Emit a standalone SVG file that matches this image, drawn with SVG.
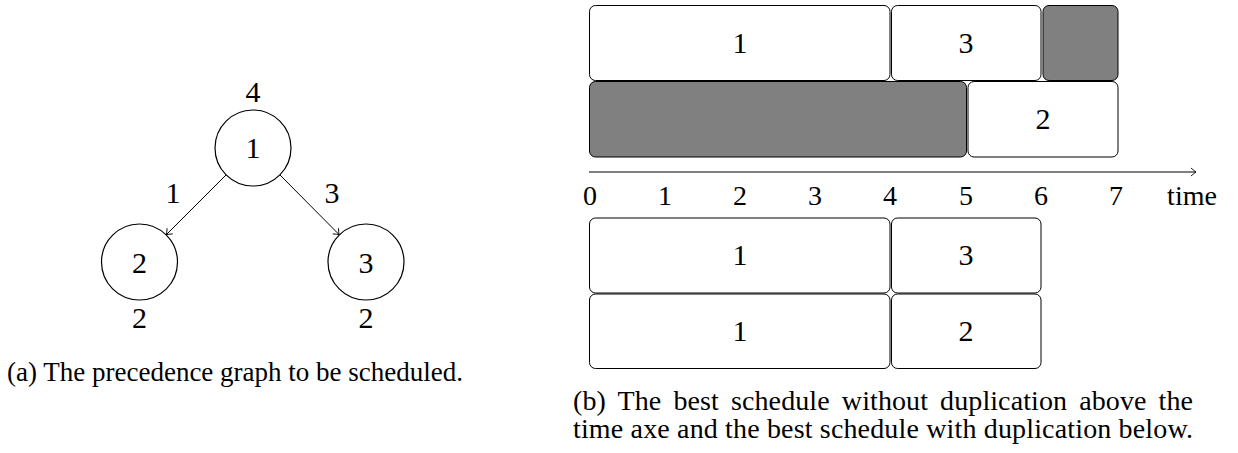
<svg xmlns="http://www.w3.org/2000/svg" width="1238" height="453" viewBox="0 0 1238 453">
<style>
text{font-family:"Liberation Serif","Times New Roman",serif;fill:#000}
.node circle{fill:#fff;stroke:#000;stroke-width:1.2}
.dg{font-size:30px;text-anchor:middle}
.bx{font-size:30px;text-anchor:middle}
.tk{font-size:28px;text-anchor:middle}
.cap{font-size:27px}
.capb{font-size:28px}
.task rect{fill:#fff;stroke:#000;stroke-width:1}
.task rect.idle{fill:#808080}
.edge{stroke:#000;stroke-width:1;fill:none}
</style>
<defs>
<marker id="to" viewBox="-6 -5 8 10" refX="0" refY="0" markerWidth="8" markerHeight="10" markerUnits="userSpaceOnUse" orient="auto">
<path d="M-5,-4 Q-1.5,-1 0,0 Q-1.5,1 -5,4" fill="none" stroke="#000" stroke-width="0.9"/>
</marker>
</defs>
<g id="connectors">
<line class="edge" x1="226.1" y1="174.9" x2="166.4" y2="234.6" marker-end="url(#to)"/>
<line class="edge" x1="279.9" y1="174.9" x2="339.1" y2="234.6" marker-end="url(#to)"/>
<line class="edge" x1="589" y1="172" x2="1196" y2="172" marker-end="url(#to)"/>
</g>
<g id="node1" class="node"><circle cx="253" cy="148" r="38"/><text class="dg" x="253" y="158">1</text><text class="dg" x="253" y="102">4</text></g>
<g id="node2" class="node"><circle cx="139.5" cy="262" r="38"/><text class="dg" x="139.5" y="273">2</text><text class="dg" x="139.5" y="328">2</text></g>
<g id="node3" class="node"><circle cx="366" cy="262" r="38"/><text class="dg" x="366" y="273">3</text><text class="dg" x="366" y="328">2</text></g>
<g id="edge-labels"><text class="dg" x="173" y="203">1</text><text class="dg" x="332" y="203">3</text></g>
<g id="sched-top" class="task">
<rect x="589.5" y="5.5" width="300.5" height="75" rx="6"/><text class="bx" x="740" y="53">1</text>
<rect x="891.5" y="5.5" width="149.5" height="75" rx="6"/><text class="bx" x="966" y="53">3</text>
<rect class="idle" x="1043" y="5.5" width="75" height="75" rx="6"/>
<rect class="idle" x="589.5" y="81.5" width="377" height="75.5" rx="6"/>
<rect x="968" y="81.5" width="150" height="75.5" rx="6"/><text class="bx" x="1043" y="129">2</text>
</g>
<g id="axis-labels">
<text class="tk" x="590" y="205">0</text><text class="tk" x="665" y="205">1</text><text class="tk" x="740" y="205">2</text><text class="tk" x="815" y="205">3</text><text class="tk" x="890" y="205">4</text><text class="tk" x="966" y="205">5</text><text class="tk" x="1041" y="205">6</text><text class="tk" x="1116" y="205">7</text><text class="tk" x="1192" y="205">time</text>
</g>
<g id="sched-bottom" class="task">
<rect x="589.5" y="218" width="300.5" height="75" rx="6"/><text class="bx" x="740" y="265">1</text>
<rect x="891.5" y="218" width="149.5" height="75" rx="6"/><text class="bx" x="966" y="265">3</text>
<rect x="589.5" y="294" width="300.5" height="74.5" rx="6"/><text class="bx" x="740" y="341">1</text>
<rect x="891.5" y="294" width="149.5" height="74.5" rx="6"/><text class="bx" x="966" y="341">2</text>
</g>
<g id="captions">
<text class="cap" x="7" y="381">(a) The precedence graph to be scheduled.</text>
<text class="capb" x="573" y="410" word-spacing="5" textLength="620">(b) The best schedule without duplication above the</text>
<text class="capb" x="573" y="438" textLength="620">time axe and the best schedule with duplication below.</text>
</g>
</svg>
